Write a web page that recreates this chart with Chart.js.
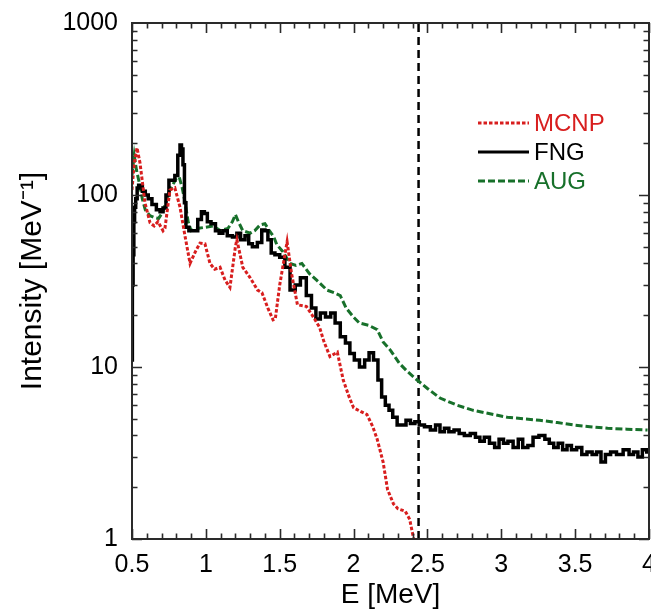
<!DOCTYPE html>
<html>
<head>
<meta charset="utf-8">
<script src="https://cdn.jsdelivr.net/npm/chart.js@4.4.1/dist/chart.umd.min.js"></script>
<style>
html,body{margin:0;padding:0;background:#fff;}
#wrap{width:651px;height:612px;}
</style>
</head>
<body>
<div id="wrap"><canvas id="c" width="651" height="612"></canvas></div>
<script>
// ---- data ----
const xTicks = [0.5, 1, 1.5, 2, 2.5, 3, 3.5, 4];
const yTicks = [1, 10, 100, 1000];
const seriesNames = ["MCNP", "FNG", "AUG"];
const cutoffE = 2.44;

const mcnpE = [0.5,0.514,0.534,0.554,0.588,0.622,0.65,0.676,0.71,0.723,0.757,0.79,0.825,0.86,0.893,0.93,0.96,0.994,1.028,1.06,1.096,1.13,1.163,1.2,1.21,1.25,1.3,1.35,1.38,1.42,1.455,1.47,1.5,1.55,1.58,1.62,1.68,1.72,1.77,1.8,1.84,1.89,1.93,1.97,2.0,2.05,2.09,2.13,2.16,2.2,2.23,2.27,2.3,2.35,2.38,2.4,2.42];
const mcnpI = [107,150,188,154,90,69,66,70,62,64,107,110,85,57,40,47,52.5,52,40,37,38,32,29,50,55,38,33,28,27,22,18.8,19,30,53.5,35,23,22.5,20,17,14,11.5,12.2,8.4,6.7,5.8,5.5,5.3,4.5,3.8,2.8,1.94,1.6,1.5,1.45,1.3,1.07,0.9];

const fngE = [0.5,0.505,0.51,0.515,0.52,0.53,0.54,0.55,0.56,0.58,0.6,0.62,0.65,0.68,0.7,0.72,0.74,0.76,0.78,0.8,0.82,0.83,0.84,0.85,0.86,0.87,0.9,0.93,0.96,0.98,1.0,1.02,1.05,1.08,1.1,1.13,1.16,1.2,1.22,1.25,1.28,1.3,1.33,1.367,1.39,1.41,1.43,1.455,1.48,1.52,1.55,1.59,1.62,1.66,1.7,1.73,1.76,1.79,1.83,1.86,1.89,1.93,1.96,1.99,2.02,2.06,2.09,2.12,2.15,2.18,2.2,2.23,2.25,2.28,2.31,2.34,2.37,2.4,2.43,2.46,2.5,2.54,2.57,2.6,2.63,2.66,2.7,2.73,2.77,2.81,2.84,2.87,2.9,2.94,2.97,3.0,3.03,3.06,3.1,3.13,3.16,3.2,3.23,3.28,3.31,3.34,3.37,3.4,3.43,3.46,3.49,3.53,3.56,3.6,3.63,3.66,3.69,3.72,3.76,3.8,3.85,3.88,3.91,3.94,3.97,4.0];
const fngI = [11,30,45,70,85,95,110,114,112,105,100,95,88,82,80,84,100,122,122,130,170,195,185,150,90,65,62,62,72,80,78,70,68,62,60,62,58,57,60,55,58,52,50,53,62.6,62,55,46,45,43.5,38,28,30,33,26,22,19,20.6,19.5,20.6,18,15,13.8,12,11,10,11,12.1,11,8.4,6.7,6,5.6,5.1,4.6,4.6,4.9,4.7,4.8,4.6,4.5,4.3,4.6,4.2,4.4,4.2,4.3,4.1,4.0,4.1,3.9,3.7,3.9,3.6,3.4,3.8,3.6,3.7,3.4,3.8,3.4,3.5,3.9,4.0,3.8,3.6,3.4,3.6,3.3,3.5,3.3,3.4,3.1,3.2,3.1,3.2,2.8,3.1,3.2,3.1,3.3,3.1,3.2,3.0,3.3,3.2];

const augE = [0.5,0.505,0.515,0.53,0.55,0.57,0.59,0.62,0.65,0.68,0.71,0.75,0.77,0.8,0.82,0.84,0.86,0.88,0.9,0.95,1.0,1.05,1.1,1.15,1.18,1.2,1.22,1.25,1.3,1.33,1.367,1.4,1.43,1.46,1.48,1.52,1.57,1.61,1.65,1.7,1.75,1.82,1.87,1.91,1.95,2.0,2.04,2.1,2.16,2.2,2.25,2.31,2.36,2.43,2.5,2.585,2.7,2.81,2.9,3.04,3.15,3.26,3.38,3.49,3.6,3.72,3.85,3.99];
const augI = [130,144,170,140,117,95,82,76,74,73,80,104,112,125,127,110,90,70,62,64,65,66,62,64,70,77,70,62,60,62,67,68,62,57,51.5,47,40,39,40,35,32,28,27,26,22,19.5,18,17.5,16.5,14,12.5,10.5,9.5,8.4,7.5,6.6,6.0,5.6,5.4,5.1,5.0,4.9,4.75,4.6,4.5,4.4,4.35,4.3];

const colors = {MCNP: "#d81e1e", FNG: "#000000", AUG: "#17702a"};
const FONT = "'Liberation Sans', Arial, sans-serif";

function pts(E, I) { return E.map((e, i) => ({x: e, y: I[i]})); }

const framePlugin = {
  id: 'frame',
  afterDraw(chart) {
    const {ctx, chartArea: a, scales: {x, y}} = chart;
    ctx.save();
    ctx.strokeStyle = '#2a2a2a';
    ctx.lineWidth = 2;
    ctx.strokeRect(a.left, a.top, a.right - a.left, a.bottom - a.top);
    ctx.lineWidth = 1.6;
    ctx.beginPath();
    for (let k = 5; k <= 40; k++) {
      const v = k / 10;
      const px = Math.round(x.getPixelForValue(v)) + 0.5;
      const len = (k % 5 === 0) ? 10 : 5.5;
      ctx.moveTo(px, a.bottom); ctx.lineTo(px, a.bottom - len);
      ctx.moveTo(px, a.top); ctx.lineTo(px, a.top + len);
    }
    for (let d = 0; d < 3; d++) {
      for (let m = 1; m <= 9; m++) {
        const v = m * Math.pow(10, d);
        const py = Math.round(y.getPixelForValue(v)) + 0.5;
        const len = (m === 1) ? 10 : 5.5;
        ctx.moveTo(a.left, py); ctx.lineTo(a.left + len, py);
        ctx.moveTo(a.right, py); ctx.lineTo(a.right - len, py);
      }
    }
    ctx.stroke();

    const items = [
      {name: seriesNames[0], y: 123, dash: [3.5, 2]},
      {name: seriesNames[1], y: 152, dash: []},
      {name: seriesNames[2], y: 181, dash: [7, 3]}
    ];
    ctx.font = "24px " + FONT;
    ctx.textBaseline = 'middle';
    ctx.textAlign = 'left';
    items.forEach(it => {
      ctx.strokeStyle = colors[it.name];
      ctx.fillStyle = colors[it.name];
      ctx.lineWidth = it.name === 'FNG' ? 3.2 : 2.8;
      ctx.setLineDash(it.dash);
      ctx.beginPath();
      ctx.moveTo(478, it.y); ctx.lineTo(529, it.y);
      ctx.stroke();
      ctx.setLineDash([]);
      ctx.fillText(it.name, 534, it.y + 1);
    });
    ctx.restore();
  }
};

new Chart(document.getElementById('c'), {
  type: 'line',
  data: {
    datasets: [
      {label: seriesNames[0], data: pts(mcnpE, mcnpI), borderColor: colors.MCNP, borderWidth: 3, borderDash: [3.5, 2], pointRadius: 0, tension: 0, order: 0},
      {label: seriesNames[1], data: pts(fngE, fngI), borderColor: colors.FNG, borderWidth: 3.5, stepped: 'middle', pointRadius: 0, tension: 0, order: 1},
      {label: seriesNames[2], data: pts(augE, augI), borderColor: colors.AUG, borderWidth: 3, borderDash: [7, 3], pointRadius: 0, tension: 0, order: 2},
      {label: 'cutoff', data: [{x: cutoffE, y: 1}, {x: cutoffE, y: 1000}], borderColor: '#000', borderWidth: 2.5, borderDash: [8, 5], pointRadius: 0, order: 3}
    ]
  },
  options: {
    responsive: false,
    animation: false,
    layout: {padding: {top: 23, right: 2, left: 0, bottom: 0}},
    plugins: {legend: {display: false}, tooltip: {enabled: false}},
    scales: {
      x: {
        type: 'linear', min: 0.5, max: 4,
        grid: {display: false, drawTicks: false},
        border: {display: false},
        afterBuildTicks: s => { s.ticks = xTicks.map(v => ({value: v})); },
        ticks: {autoSkip: false, maxRotation: 0, padding: 11, color: '#000', font: {family: FONT, size: 25}, callback: v => String(v)},
        title: {display: true, text: 'E [MeV]', color: '#000', font: {family: FONT, size: 28}, padding: {top: 0, bottom: 0}},
        afterFit: s => { s.height = 73; s.paddingLeft = 0; s.paddingRight = 0; }
      },
      y: {
        type: 'logarithmic', min: 1, max: 1000,
        grid: {display: false, drawTicks: false},
        border: {display: false},
        afterBuildTicks: s => { s.ticks = yTicks.map(v => ({value: v})); },
        ticks: {autoSkip: false, padding: 14, color: '#000', font: {family: FONT, size: 25}, callback: v => String(v)},
        title: {display: true, text: 'Intensity [MeV⁻¹]', color: '#000', font: {family: FONT, size: 30}, padding: {top: 15, bottom: 0}},
        afterFit: s => { s.width = 132; s.paddingTop = 0; s.paddingBottom = 0; }
      }
    }
  },
  plugins: [framePlugin]
});
</script>
</body>
</html>
